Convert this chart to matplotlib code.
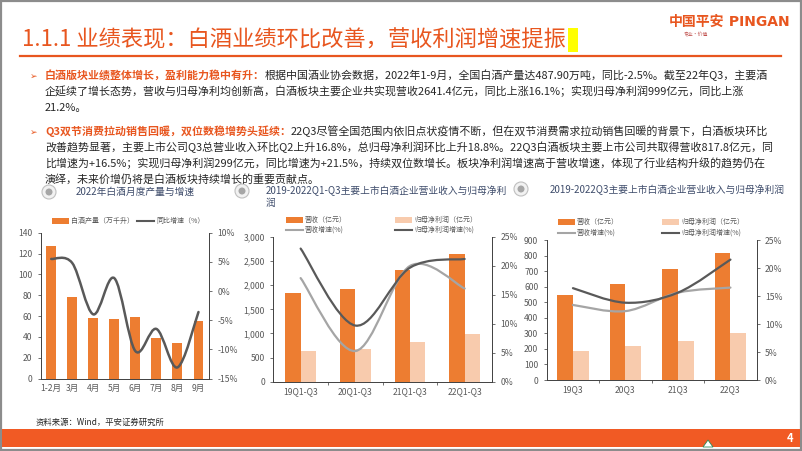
import matplotlib
matplotlib.use('Agg')
import matplotlib.pyplot as plt
from matplotlib.patches import Rectangle, Circle, PathPatch, Polygon
from matplotlib.path import Path
from matplotlib.ticker import FuncFormatter, MultipleLocator
from matplotlib.lines import Line2D

plt.rcParams['font.family'] = ['Noto Sans CJK SC', 'DejaVu Sans']

# 图1：2022年白酒月度产量与增速
months = ['1-2月', '3月', '4月', '5月', '6月', '7月', '8月', '9月']
output = [127, 78, 58, 57, 59, 39, 34, 55]
output_yoy = [5.5, 4.8, -4.0, 2.2, -10.3, -6.5, -13.1, -3.6]

# 图2：2019-2022Q1-Q3
periods = ['19Q1-Q3', '20Q1-Q3', '21Q1-Q3', '22Q1-Q3']
rev_ytd = [1834, 1924, 2310, 2641.4]
np_ytd = [634, 683, 828, 999]
rev_ytd_g = [17.9, 5.3, 20.0, 16.1]
np_ytd_g = [23.0, 9.7, 19.7, 21.2]

# 图3：2019-2022Q3
quarters = ['19Q3', '20Q3', '21Q3', '22Q3']
rev_q3 = [549, 615, 711, 817.8]
np_q3 = [186, 216, 249, 299]
rev_q3_g = [13.4, 12.3, 15.6, 16.5]
np_q3_g = [16.4, 13.8, 15.6, 21.5]

ORANGE = '#ED7D31'
PEACH = '#F8CBAD'
RED = '#E8561F'
LGRAY = '#A5A5A5'
DGRAY = '#595959'
TXT = '#262626'
W, H = 802, 451

fig = plt.figure(figsize=(8.02, 4.51), dpi=100)
bg = fig.add_axes([0, 0, 1, 1])
bg.set_xlim(0, W)
bg.set_ylim(H, 0)
bg.axis('off')


def px_axes(l, t, r, b):
    ax = fig.add_axes([l / W, 1 - b / H, (r - l) / W, (b - t) / H])
    ax.set_facecolor('none')
    return ax


def smooth(ax, ys, color, lw):
    # Excel 风格平滑线 (Catmull-Rom -> Bezier)
    pts = list(enumerate(ys))
    verts = [pts[0]]
    codes = [Path.MOVETO]
    n = len(pts)
    for i in range(n - 1):
        p0 = pts[max(i - 1, 0)]
        p1 = pts[i]
        p2 = pts[i + 1]
        p3 = pts[min(i + 2, n - 1)]
        c1 = (p1[0] + (p2[0] - p0[0]) / 6, p1[1] + (p2[1] - p0[1]) / 6)
        c2 = (p2[0] - (p3[0] - p1[0]) / 6, p2[1] - (p3[1] - p1[1]) / 6)
        verts += [c1, c2, p2]
        codes += [Path.CURVE4] * 3
    ax.add_patch(PathPatch(Path(verts, codes), fill=False, edgecolor=color,
                           lw=lw, capstyle='round', zorder=3))


def style(ax, ax2):
    for a in (ax, ax2):
        a.spines['top'].set_visible(False)
        a.tick_params(labelsize=6.2, colors=DGRAY, length=2.5, width=0.6)
    ax.spines['right'].set_visible(False)
    ax2.spines['left'].set_visible(False)
    ax2.spines['bottom'].set_visible(False)
    for s in ('left', 'bottom'):
        ax.spines[s].set_color('#404040')
        ax.spines[s].set_linewidth(0.7)
    ax2.spines['right'].set_color('#404040')
    ax2.spines['right'].set_linewidth(0.7)


def icon(x, y):
    bg.add_patch(Circle((x, y), 7, fc='#F2F2F2', ec='#BFBFBF', lw=0.8))
    bg.add_patch(Circle((x, y), 3.5, fc='#A6A6A6', ec='none'))


def legend_patch(x, y, color, label):
    bg.add_patch(Rectangle((x, y - 3), 17, 6, fc=color, ec='none'))
    bg.text(x + 19, y, label, fontsize=5, color=DGRAY, va='center')


def legend_line(x, y, color, label):
    bg.add_line(Line2D([x, x + 17], [y, y], color=color, lw=1.5))
    bg.text(x + 19, y, label, fontsize=5, color=DGRAY, va='center')


# 边框、标题
bg.add_patch(Rectangle((0.8, 0.8), W - 1.6, H - 1.6, fill=False, ec='#8C8C8C', lw=1.6))
title = bg.text(22, 40, '1.1.1 业绩表现：白酒业绩环比改善，营收利润增速提振',
                fontsize=16, color=RED, va='center')
bg.add_line(Line2D([20, 781], [56, 56], color=RED, lw=1.6))
logo = bg.text(669, 22, '中国平安', fontsize=10, color=RED, fontweight='bold', va='center')
bg.annotate(' PINGAN', xy=(1, 22), xycoords=(logo, 'data'), fontsize=10, color=RED,
            fontweight='bold', va='center', family='DejaVu Sans')
bg.text(684, 35, '专业·价值', fontsize=3.5, color='#C0504D', va='center')

# 正文
lines = [
    (75, '白酒版块业绩整体增长，盈利能力稳中有升：',
     '根据中国酒业协会数据，2022年1-9月，全国白酒产量达487.90万吨，同比-2.5%。截至22年Q3，主要酒'),
    (91, None, '企延续了增长态势，营收与归母净利均创新高，白酒板块主要企业共实现营收2641.4亿元，同比上涨16.1%；实现归母净利润999亿元，同比上涨'),
    (107, None, '21.2%。'),
    (131, 'Q3双节消费拉动销售回暖，双位数稳增势头延续：',
     '22Q3尽管全国范围内依旧点状疫情不断，但在双节消费需求拉动销售回暖的背景下，白酒板块环比'),
    (147, None, '改善趋势显著，主要上市公司Q3总营业收入环比Q2上升16.8%，总归母净利润环比上升18.8%。22Q3白酒板块主要上市公司共取得营收817.8亿元，同'),
    (163, None, '比增速为+16.5%；实现归母净利润299亿元，同比增速为+21.5%，持续双位数增长。板块净利润增速高于营收增速，体现了行业结构升级的趋势仍在'),
    (179, None, '演绎，未来价增仍将是白酒板块持续增长的重要贡献点。'),
]
FS = 7.9
for y, head, body in lines:
    yb = y + 4
    if head:
        bg.text(30, yb, '➢', fontsize=6.5, color=RED, va='baseline')
        h = bg.text(45, yb, head, fontsize=FS, color=RED, fontweight='bold', va='baseline')
        bg.annotate(body, xy=(1, yb), xycoords=(h, 'data'), fontsize=FS, color=TXT,
                    va='baseline', ha='left')
    else:
        bg.text(45, yb, body, fontsize=FS, color=TXT, va='baseline')

# 图表标题
TCOL = '#3E4C6B'
TFS = 7.0
icon(49, 192)
bg.text(76, 192, '2022年白酒月度产量与增速', fontsize=TFS, color=TCOL, va='center')
icon(242, 191)
bg.text(266, 191, '2019-2022Q1-Q3主要上市白酒企业营业收入与归母净利', fontsize=TFS,
        color=TCOL, va='center')
bg.text(266, 203, '润', fontsize=TFS, color=TCOL, va='center')
icon(521, 189)
bg.text(550, 190, '2019-2022Q3主要上市白酒企业营业收入与归母净利润', fontsize=TFS,
        color=TCOL, va='center')

# 图1
ax1 = px_axes(40.7, 232.7, 209, 378.5)
ax1.bar(range(len(months)), output, width=0.47, color=ORANGE, zorder=2)
ax1.set_xlim(-0.5, len(months) - 0.5)
ax1.set_ylim(0, 140)
ax1.yaxis.set_major_locator(MultipleLocator(20))
ax1.set_xticks(range(len(months)))
ax1.set_xticklabels(months)
ax1b = ax1.twinx()
ax1b.set_ylim(-15, 10)
ax1b.yaxis.set_major_locator(MultipleLocator(5))
ax1b.yaxis.set_major_formatter(FuncFormatter(lambda v, p: f'{v:.0f}%'))
smooth(ax1b, output_yoy, DGRAY, 1.8)
style(ax1, ax1b)
ax1.tick_params(axis='x', length=0, pad=4)
legend_patch(52, 221, ORANGE, '白酒产量（万千升）')
legend_line(137, 221, DGRAY, '同比增速（%）')


def combo(ax, cats, rev, npf, rg, ng, ymax, ystep, bw):
    x = range(len(cats))
    ax.bar([i - bw / 2 for i in x], rev, width=bw, color=ORANGE, zorder=2)
    ax.bar([i + bw / 2 for i in x], npf, width=bw, color=PEACH, zorder=2)
    ax.set_xlim(-0.5, len(cats) - 0.5)
    ax.set_ylim(0, ymax)
    ax.yaxis.set_major_locator(MultipleLocator(ystep))
    ax.yaxis.set_major_formatter(FuncFormatter(lambda v, p: f'{v:,.0f}'))
    ax.set_xticks(list(x))
    ax.set_xticklabels(cats)
    ax.set_xticks([i + 0.5 for i in range(len(cats) - 1)], minor=True)
    axb = ax.twinx()
    axb.set_ylim(0, 25)
    axb.yaxis.set_major_locator(MultipleLocator(5))
    axb.yaxis.set_major_formatter(FuncFormatter(lambda v, p: f'{v:.0f}%'))
    smooth(axb, rg, LGRAY, 1.6)
    smooth(axb, ng, DGRAY, 1.6)
    style(ax, axb)
    ax.tick_params(axis='x', which='major', length=0, pad=4)
    ax.tick_params(axis='x', which='minor', length=2.5, width=0.6, colors=DGRAY)


ax2 = px_axes(273.3, 237, 492, 381.7)
combo(ax2, periods, rev_ytd, np_ytd, rev_ytd_g, np_ytd_g, 3000, 500, 0.28)
legend_patch(286, 220, ORANGE, '营收（亿元）')
legend_patch(395, 220, PEACH, '归母净利润（亿元）')
legend_line(286, 230, LGRAY, '营收增速(%)')
legend_line(395, 230, DGRAY, '归母净利润增速(%)')

ax3 = px_axes(546.7, 240, 756.7, 380)
combo(ax3, quarters, rev_q3, np_q3, rev_q3_g, np_q3_g, 900, 100, 0.3)
legend_patch(558, 222, ORANGE, '营收（亿元）')
legend_patch(662, 222, PEACH, '归母净利润（亿元）')
legend_line(558, 233, LGRAY, '营收增速(%)')
legend_line(662, 233, DGRAY, '归母净利润增速(%)')

# 来源与页脚
bg.text(36, 422, '资料来源：Wind，平安证券研究所', fontsize=6, color=TXT, va='center')
bg.add_patch(Rectangle((1.6, 429), W - 3.2, 17.5, fc='#F15A24', ec='none'))
bg.add_patch(Polygon([[703, 447], [708, 440], [713, 447]], closed=True, fc='white',
                     ec='#2E8B57', lw=0.6))
bg.text(790, 438, '4', fontsize=8, color='white', fontweight='bold', va='center', ha='center')

# 标题后的黄色标记
fig.canvas.draw()
bb = title.get_window_extent().transformed(bg.transData.inverted())
x_end = max(bb.x0, bb.x1)
bg.add_patch(Rectangle((x_end + 2, 28), 10, 24, fc='#FFFF00', ec='none'))

fig.savefig('out.png', dpi=100)
